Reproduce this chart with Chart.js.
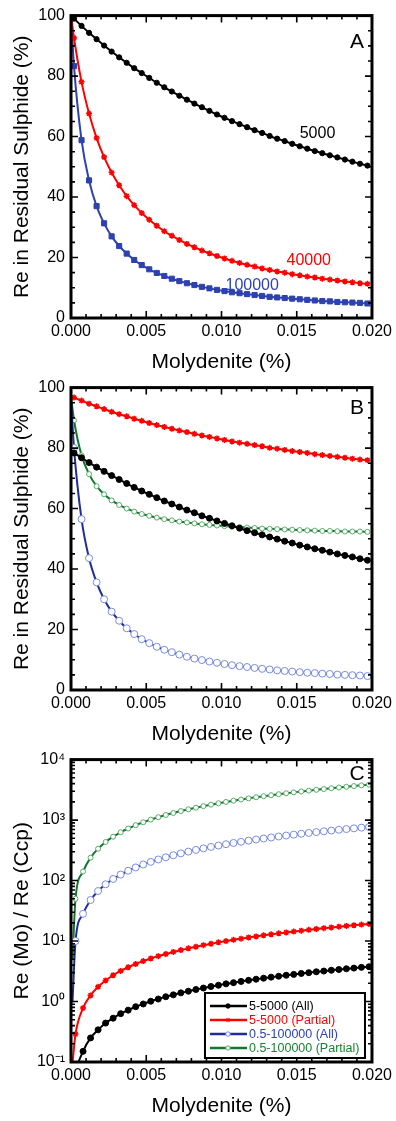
<!DOCTYPE html>
<html><head><meta charset="utf-8">
<script src="https://cdn.jsdelivr.net/npm/chart.js"></script>
<style>
html,body{margin:0;padding:0;background:#fff;}
canvas{display:block;}
</style></head>
<body>
<canvas id="cA" width="396" height="372"></canvas>
<canvas id="cB" width="396" height="372"></canvas>
<canvas id="cC" width="396" height="372"></canvas>
<script>
// ---------- DATA ----------
const xTickValues = [0, 0.005, 0.01, 0.015, 0.02];
const xTickLabels = ['0.000', '0.005', '0.010', '0.015', '0.020'];
const yTickValuesAB = [0, 20, 40, 60, 80, 100];
const yTickLabelsAB = ['0', '20', '40', '60', '80', '100'];
const yTickValuesC = [0.1, 1, 10, 100, 1000, 10000];
const yTickLabelsC = ['10\u207B\u00B9', '10\u2070', '10\u00B9', '10\u00B2', '10\u00B3', '10\u2074'];

// Molydenite (%) for panels A and B
const moAB = [0, 0.0002, 0.0007, 0.0012, 0.0017, 0.0022, 0.0027, 0.0032, 0.0037, 0.0042, 0.0047,
  0.0052, 0.0057, 0.0062, 0.0067, 0.0072, 0.0077, 0.0082, 0.0087, 0.0092, 0.0097,
  0.0102, 0.0107, 0.0112, 0.0117, 0.0122, 0.0127, 0.0132, 0.0137, 0.0142, 0.0147,
  0.0152, 0.0157, 0.0162, 0.0167, 0.0172, 0.0177, 0.0182, 0.0187, 0.0192, 0.0197];

// Panel A: Re in residual sulphide (%)
const reA_5000 = [100, 99.0, 96.6, 94.3, 92.2, 90.1, 88.1, 86.2, 84.4, 82.6, 81.0,
  79.4, 77.8, 76.3, 74.9, 73.5, 72.2, 70.9, 69.7, 68.5, 67.3,
  66.2, 65.1, 64.1, 63.1, 62.1, 61.2, 60.2, 59.3, 58.5, 57.6,
  56.8, 56.0, 55.2, 54.5, 53.8, 53.1, 52.4, 51.7, 51.0, 50.4];
const reA_40000 = [100, 92.6, 78.1, 67.6, 59.5, 53.2, 48.1, 43.9, 40.3, 37.3, 34.7,
  32.5, 30.5, 28.7, 27.2, 25.8, 24.5, 23.4, 22.3, 21.4, 20.5,
  19.7, 18.9, 18.2, 17.6, 17.0, 16.4, 15.9, 15.4, 15.0, 14.5,
  14.1, 13.7, 13.4, 13.0, 12.7, 12.4, 12.1, 11.8, 11.5, 11.3];
const reA_100000 = [100, 83.3, 58.8, 45.5, 37.0, 31.3, 27.0, 23.8, 21.3, 19.2, 17.5,
  16.1, 14.9, 13.9, 13.0, 12.2, 11.5, 10.9, 10.3, 9.8, 9.3,
  8.9, 8.5, 8.2, 7.9, 7.6, 7.3, 7.0, 6.8, 6.6, 6.4,
  6.2, 6.0, 5.8, 5.6, 5.5, 5.3, 5.2, 5.1, 5.0, 4.8];
const labelsA = ['5000', '40000', '100000'];

// Panel B: Re in residual sulphide (%)
const reB_5_5000_All = [79.1, 78.4, 76.8, 75.2, 73.7, 72.3, 70.9, 69.6, 68.3, 67.0, 65.8,
  64.7, 63.6, 62.5, 61.5, 60.5, 59.5, 58.6, 57.6, 56.8, 55.9,
  55.1, 54.3, 53.5, 52.7, 52.0, 51.3, 50.6, 49.9, 49.2, 48.6,
  47.9, 47.3, 46.7, 46.2, 45.6, 45.0, 44.5, 44.0, 43.4, 42.9];
const reB_5_5000_Partial = [97.1, 96.7, 95.7, 94.7, 93.8, 92.9, 92.0, 91.2, 90.5, 89.7, 89.0,
  88.3, 87.6, 87.0, 86.4, 85.8, 85.3, 84.7, 84.2, 83.7, 83.2,
  82.7, 82.2, 81.8, 81.4, 81.0, 80.6, 80.1, 79.8, 79.4, 79.0,
  78.7, 78.4, 78.0, 77.7, 77.4, 77.1, 76.8, 76.5, 76.2, 76.0];
const reB_05_100000_All = [96, 80.0, 56.5, 43.6, 35.6, 30.0, 25.9, 22.9, 20.4, 18.5, 16.8,
  15.5, 14.3, 13.3, 12.5, 11.7, 11.0, 10.4, 9.9, 9.4, 9.0,
  8.6, 8.2, 7.9, 7.6, 7.3, 7.0, 6.8, 6.5, 6.3, 6.1,
  5.9, 5.7, 5.6, 5.4, 5.3, 5.1, 5.0, 4.9, 4.8, 4.6];
const reB_05_100000_Partial = [97, 89.2, 77.6, 71.4, 67.4, 64.7, 62.7, 61.2, 60.0, 59.0, 58.2,
  57.6, 57.0, 56.5, 56.1, 55.7, 55.4, 55.1, 54.8, 54.6, 54.4,
  54.2, 54.0, 53.9, 53.7, 53.6, 53.4, 53.3, 53.2, 53.1, 53.0,
  52.9, 52.8, 52.7, 52.6, 52.6, 52.5, 52.4, 52.4, 52.4, 52.3];

// Panel C: Molydenite (%) and Re(Mo)/Re(Ccp)
const moC = [0.0001, 0.0003, 0.0008, 0.0013, 0.0018, 0.0023, 0.0028, 0.0033, 0.0038, 0.0043, 0.0048,
  0.0053, 0.0058, 0.0063, 0.0068, 0.0073, 0.0078, 0.0083, 0.0088, 0.0093, 0.0098,
  0.0103, 0.0108, 0.0113, 0.0118, 0.0123, 0.0128, 0.0133, 0.0138, 0.0143, 0.0148,
  0.0153, 0.0158, 0.0163, 0.0168, 0.0173, 0.0178, 0.0183, 0.0188, 0.0193, 0.0198];
const rC_5_5000_All = [0.02, 0.06, 0.15, 0.25, 0.34, 0.44, 0.53, 0.63, 0.72, 0.82, 0.91,
  1.01, 1.10, 1.20, 1.29, 1.39, 1.48, 1.58, 1.67, 1.77, 1.86,
  1.96, 2.05, 2.15, 2.24, 2.34, 2.43, 2.53, 2.62, 2.72, 2.81,
  2.91, 3.00, 3.10, 3.19, 3.29, 3.38, 3.48, 3.57, 3.67, 3.76];
const rC_5_5000_Partial = [0.097, 0.29, 0.78, 1.26, 1.75, 2.23, 2.72, 3.20, 3.69, 4.17, 4.66,
  5.14, 5.63, 6.11, 6.60, 7.08, 7.57, 8.05, 8.54, 9.02, 9.51,
  9.99, 10.48, 10.96, 11.45, 11.93, 12.42, 12.90, 13.39, 13.87, 14.36,
  14.84, 15.33, 15.81, 16.30, 16.78, 17.27, 17.75, 18.24, 18.72, 19.21];
const rC_05_100000_All = [1.0, 10.0, 28.2, 47.7, 67.2, 86.7, 106.2, 125.7, 145.2, 164.7, 184.2,
  203.7, 223.2, 242.7, 262.2, 281.7, 301.2, 320.7, 340.2, 359.7, 379.2,
  398.7, 418.2, 437.7, 457.2, 476.7, 496.2, 515.7, 535.2, 554.7, 574.2,
  593.7, 613.2, 632.7, 652.2, 671.7, 691.2, 710.7, 730.2, 749.7, 769.2];
const rC_05_100000_Partial = [5, 50, 141, 239, 336, 434, 531, 629, 726, 824, 921,
  1019, 1116, 1214, 1311, 1409, 1506, 1604, 1701, 1799, 1896,
  1994, 2091, 2189, 2286, 2384, 2481, 2579, 2676, 2774, 2871,
  2969, 3066, 3164, 3261, 3359, 3456, 3554, 3651, 3749, 3846];
const seriesNamesC = ['5-5000 (All)', '5-5000 (Partial)', '0.5-100000 (All)', '0.5-100000 (Partial)'];

// ---------- STYLE / RENDER ----------
const FONT = '"Liberation Sans", Arial, Helvetica, sans-serif';
Chart.defaults.font.family = FONT;
Chart.defaults.color = '#000';

const COL = {
  black: '#000000', red: '#ff0000',
  blueA: 'rgb(45,65,175)', blueLine: 'rgb(30,45,155)', blueMk: 'rgb(120,140,225)',
  green: 'rgb(15,120,45)', greenMk: 'rgb(90,170,105)', blueText: 'rgb(45,65,185)', greenText: 'rgb(25,130,50)'
};

function pts(xs, ys) { return xs.map((x, i) => ({x: x, y: ys[i]})); }
function ds(label, xs, ys, s) {
  const r = s.radius;
  return Object.assign({
    label: label, data: pts(xs, ys), borderWidth: 2, fill: false,
    cubicInterpolationMode: 'monotone',
    pointRadius: (c) => c.dataIndex === 0 ? 0 : r,
    pointHoverRadius: 0, pointBorderWidth: 1
  }, s.extra);
}
const STY = {
  blackDot: (r) => ({radius: r, extra: {borderColor: COL.black, backgroundColor: COL.black, pointStyle: 'circle', pointBackgroundColor: COL.black, pointBorderColor: COL.black}}),
  redStar: (r) => ({radius: r, extra: {borderColor: COL.red, backgroundColor: COL.red, pointStyle: 'star', pointBorderColor: COL.red, pointBackgroundColor: COL.red, pointBorderWidth: 1.5}}),
  blueSq: (r) => ({radius: r, extra: {borderColor: COL.blueA, backgroundColor: COL.blueA, pointStyle: 'rect', pointBorderColor: COL.blueA, pointBackgroundColor: COL.blueA}}),
  blueOpen: (r) => ({radius: r, extra: {borderColor: COL.blueLine, backgroundColor: '#fff', pointStyle: 'circle', pointBorderColor: COL.blueMk, pointBackgroundColor: '#fff'}}),
  greenOpen: (r) => ({radius: r, extra: {borderColor: COL.green, backgroundColor: '#fff', pointStyle: 'circle', pointBorderColor: COL.greenMk, pointBackgroundColor: '#fff'}})
};

const decor = {
  id: 'decor',
  afterDatasetsDraw(chart, args, o) {
    const ctx = chart.ctx, a = chart.chartArea;
    const sx = chart.scales.x, sy = chart.scales.y;
    ctx.save();
    ctx.strokeStyle = '#000';
    ctx.lineWidth = 1.6;
    ctx.beginPath();
    for (let i = 0; i <= 20; i++) {
      const px = sx.getPixelForValue(i * 0.001);
      const L = i % 5 === 0 ? 7 : 4;
      ctx.moveTo(px, a.bottom); ctx.lineTo(px, a.bottom - L);
      ctx.moveTo(px, a.top); ctx.lineTo(px, a.top + L);
    }
    const yt = [];
    if (o.log) {
      for (let e = -1; e <= 3; e++) for (let m = 1; m <= 9; m++) yt.push([m * Math.pow(10, e), m === 1]);
      yt.push([10000, true]);
    } else {
      for (let v = 0; v <= 100; v += 5) yt.push([v, v % 20 === 0]);
    }
    yt.forEach(([v, major]) => {
      const py = sy.getPixelForValue(v);
      const L = major ? 7 : 4;
      ctx.moveTo(a.left, py); ctx.lineTo(a.left + L, py);
      ctx.moveTo(a.right, py); ctx.lineTo(a.right - L, py);
    });
    ctx.stroke();
    ctx.lineWidth = 3;
    ctx.strokeRect(a.left, a.top, a.right - a.left, a.bottom - a.top);

    ctx.fillStyle = '#000';
    ctx.font = '21px ' + FONT;
    ctx.textAlign = 'center'; ctx.textBaseline = 'middle';
    ctx.fillText(o.letter, a.right - 15, a.top + o.letterDy);

    (o.notes || []).forEach(n => {
      ctx.fillStyle = n.color;
      ctx.font = '16px ' + FONT;
      ctx.fillText(n.text, sx.getPixelForValue(n.x), sy.getPixelForValue(n.y));
    });

    if (o.legend) {
      const bw = 160, bh = 65;
      const bx = a.right - 7 - bw, by = a.bottom - 4 - bh;
      ctx.fillStyle = '#fff';
      ctx.fillRect(bx, by, bw, bh);
      ctx.lineWidth = 2;
      ctx.strokeStyle = '#000';
      ctx.strokeRect(bx, by, bw, bh);
      chart.data.datasets.forEach((d, i) => {
        const y = by + 13 + i * 14;
        ctx.strokeStyle = d.borderColor;
        ctx.lineWidth = 2.5;
        ctx.beginPath(); ctx.moveTo(bx + 5, y); ctx.lineTo(bx + 42, y); ctx.stroke();
        ctx.fillStyle = d.pointBackgroundColor;
        ctx.strokeStyle = d.pointBorderColor;
        ctx.lineWidth = 1;
        const r = 2.2;
        if (Chart.helpers && Chart.helpers.drawPoint) {
          Chart.helpers.drawPoint(ctx, {pointStyle: d.pointStyle, radius: r, rotation: 0, borderWidth: 1}, bx + 23, y);
        } else {
          ctx.beginPath(); ctx.arc(bx + 23, y, r, 0, Math.PI * 2); ctx.fill(); ctx.stroke();
        }
        ctx.fillStyle = o.legendColors[i];
        ctx.font = '12.5px ' + FONT;
        ctx.textAlign = 'left'; ctx.textBaseline = 'middle';
        ctx.fillText(d.label, bx + 44, y + 0.5);
      });
    }
    ctx.restore();
  }
};

function makeChart(id, datasets, yCfg, decorOpts) {
  const xScale = {
    type: 'linear', min: 0, max: 0.02,
    grid: {display: false, drawTicks: false}, border: {display: false},
    afterBuildTicks: (s) => { s.ticks = xTickValues.map(v => ({value: v})); },
    afterFit: (s) => { s.height = 54; },
    ticks: {padding: 4, font: {size: 16}, maxRotation: 0, autoSkip: false,
      callback: (v, i) => xTickLabels[i]},
    title: {display: true, text: 'Molydenite (%)', font: {size: 21, lineHeight: 0.9}, padding: {top: 0, bottom: 0}}
  };
  const yScale = Object.assign({
    grid: {display: false, drawTicks: false}, border: {display: false},
    afterFit: (s) => { s.width = 71; },
    ticks: {padding: 6, font: {size: 16}, autoSkip: false},
    title: {display: true, font: {size: 21, lineHeight: 0.9}, padding: {top: 12.5, bottom: 0}}
  }, yCfg.base);
  yScale.afterBuildTicks = (s) => { s.ticks = yCfg.values.map(v => ({value: v})); };
  yScale.ticks.callback = (v, i) => yCfg.labels[i];
  yScale.title.text = yCfg.title;
  return new Chart(document.getElementById(id), {
    type: 'line',
    data: {datasets: datasets},
    options: {
      responsive: false, animation: false, devicePixelRatio: 1,
      layout: {padding: {left: 0, right: 20, top: 15, bottom: 0}},
      scales: {x: xScale, y: yScale},
      plugins: {legend: {display: false}, tooltip: {enabled: false}, decor: decorOpts},
      elements: {line: {borderCapStyle: 'round'}}
    },
    plugins: [decor]
  });
}

makeChart('cA', [
  ds('5000', moAB, reA_5000, STY.blackDot(2.6)),
  ds('40000', moAB, reA_40000, STY.redStar(3)),
  ds('100000', moAB, reA_100000, STY.blueSq(3.6))
], {base: {type: 'linear', min: 0, max: 100}, values: yTickValuesAB, labels: yTickLabelsAB, title: 'Re in Residual Sulphide (%)'},
{letter: 'A', letterDy: 27, notes: [
  {text: labelsA[0], x: 0.01638, y: 61, color: COL.black},
  {text: labelsA[1], x: 0.0158, y: 19.1, color: COL.red},
  {text: labelsA[2], x: 0.01204, y: 10.6, color: COL.blueText}
]});

makeChart('cB', [
  ds('5-5000 (All)', moAB, reB_5_5000_All, STY.blackDot(3)),
  ds('5-5000 (Partial)', moAB, reB_5_5000_Partial, STY.redStar(3)),
  ds('0.5-100000 (All)', moAB, reB_05_100000_All, STY.blueOpen(3.5)),
  ds('0.5-100000 (Partial)', moAB, reB_05_100000_Partial, STY.greenOpen(2.5))
], {base: {type: 'linear', min: 0, max: 100}, values: yTickValuesAB, labels: yTickLabelsAB, title: 'Re in Residual Sulphide (%)'},
{letter: 'B', letterDy: 21});

makeChart('cC', [
  ds(seriesNamesC[0], moC, rC_5_5000_All, STY.blackDot(3)),
  ds(seriesNamesC[1], moC, rC_5_5000_Partial, STY.redStar(3)),
  ds(seriesNamesC[2], moC, rC_05_100000_All, STY.blueOpen(3.5)),
  ds(seriesNamesC[3], moC, rC_05_100000_Partial, STY.greenOpen(2.5))
], {base: {type: 'logarithmic', min: 0.1, max: 10000}, values: yTickValuesC, labels: yTickLabelsC, title: 'Re (Mo) / Re (Ccp)'},
{letter: 'C', letterDy: 15, log: true, legend: true,
 legendColors: [COL.black, COL.red, COL.blueText, COL.greenText]});
</script>
</body></html>
